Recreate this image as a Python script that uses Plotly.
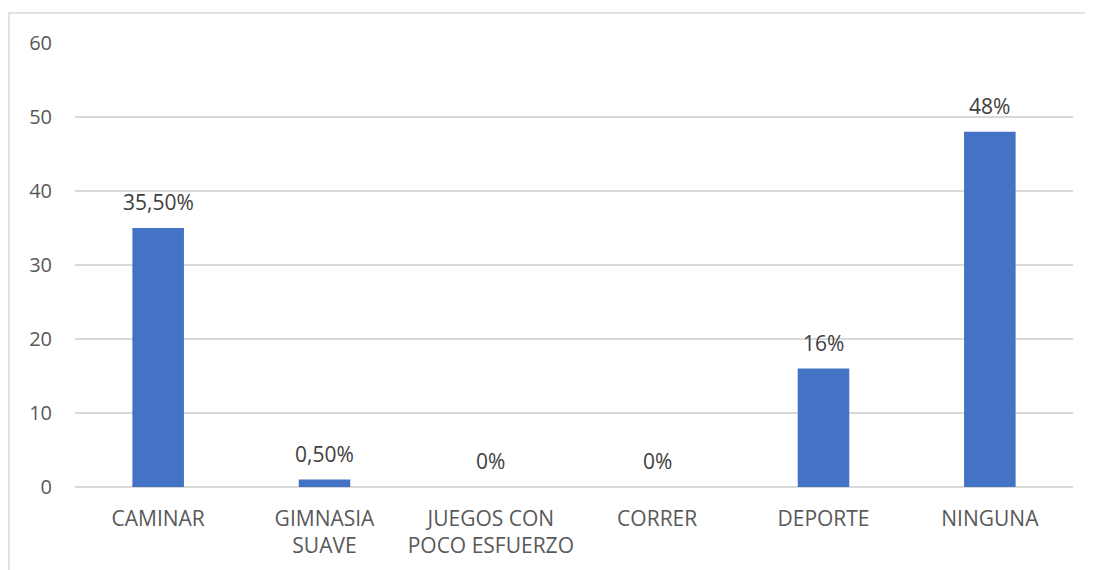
import plotly.graph_objects as go

categories = ["CAMINAR", "GIMNASIA SUAVE", "JUEGOS CON POCO ESFUERZO", "CORRER", "DEPORTE", "NINGUNA"]
tick_labels = ["CAMINAR", "GIMNASIA<br>SUAVE", "JUEGOS CON<br>POCO ESFUERZO", "CORRER", "DEPORTE", "NINGUNA"]
values = [35, 1, 0, 0, 16, 48]
value_labels = ["35,50%", "0,50%", "0%", "0%", "16%", "48%"]
y_ticks = [0, 10, 20, 30, 40, 50, 60]

FONT = "Open Sans"
W, H = 1093, 570
OFF = 8  # page body margin
# target plot area in screen pixels: x 75..1073, y 43..487
ml = 75 - OFF
mt = 43 - OFF
mr = W - (1073 - OFF)
mb = H - (487 - OFF)
pw, ph = W - ml - mr, H - mt - mb

fig = go.Figure()
fig.add_trace(go.Bar(
    x=categories, y=values,
    marker=dict(color="#4472C4", line=dict(width=0)),
    width=0.31,
    hoverinfo="skip",
))

for c, v, t in zip(categories, values, value_labels):
    fig.add_annotation(
        x=c, y=v, text=t, showarrow=False,
        yanchor="bottom", yshift=10,
        font=dict(family=FONT, size=21, color="#404040"),
    )

# outer chart border (partially visible)
fig.add_shape(
    type="rect", xref="paper", yref="paper",
    x0=(9 - OFF - ml) / pw, x1=(1091 - OFF - ml) / pw,
    y0=-(mb + 20) / ph, y1=1 + (mt - (13 - OFF)) / ph,
    line=dict(color="#D9D9D9", width=1.5), fillcolor="rgba(0,0,0,0)",
    layer="below",
)

fig.update_layout(
    width=W, height=H,
    margin=dict(l=ml, r=mr, t=mt, b=mb),
    paper_bgcolor="white", plot_bgcolor="white",
    showlegend=False,
    font=dict(family=FONT, size=18, color="#595959"),
    xaxis=dict(
        tickmode="array", tickvals=categories, ticktext=tick_labels,
        showgrid=False, showline=False, zeroline=False, ticks="",
        tickfont=dict(family=FONT, size=21, color="#595959"),
        ticklabelstandoff=17,
    ),
    yaxis=dict(
        range=[0, 60], tickvals=y_ticks,
        showgrid=True, gridcolor="#D9D9D9", gridwidth=1.5,
        zeroline=True, zerolinecolor="#D9D9D9", zerolinewidth=1.5,
        showline=False, ticks="",
        tickfont=dict(family=FONT, size=20, color="#595959"),
        ticklabelstandoff=22,
    ),
)

fig.write_html("out.html")
